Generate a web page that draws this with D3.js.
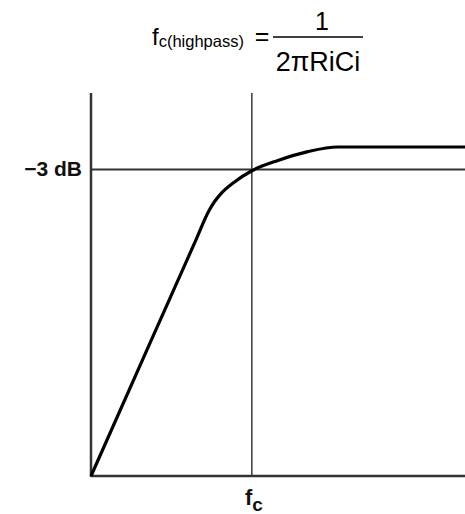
<!DOCTYPE html>
<html>
<head>
<meta charset="utf-8">
<script src="https://cdn.jsdelivr.net/npm/d3@7"></script>
<style>
  body { margin: 0; background: #fff; }
  svg { display: block; font-family: "Liberation Sans", Arial, sans-serif; }
</style>
</head>
<body>
<svg id="drawing"></svg>
<script>
// response curve (x: relative frequency, y: relative gain)
const freq = [0, 16, 28, 31.5, 33, 35, 38, 43, 50, 58, 66, 100];
const gain = [0, 35.2, 61.5, 69.2, 71.6, 74.0, 76.5, 79.7, 82.4, 84.7, 85.9, 85.9];

const fcValue = 43;        // corner frequency marker
const minus3dBValue = 80;  // -3 dB level
const yLabel = "\u22123 dB";

const svg = d3.select("#drawing")
    .attr("width", 465)
    .attr("height", 514);

const x = d3.scaleLinear().domain([0, 100]).range([91, 465]);
const y = d3.scaleLinear().domain([0, 100]).range([476, 93]);

// formula
const formula = svg.append("g").style("fill", "#000");
let f1 = formula.append("text")
    .attr("x", 152)
    .attr("y", 45)
    .style("font-size", "24px");
f1.append("tspan").text("f");
f1.append("tspan").attr("dy", 2).style("font-size", "16.5px").text("c(highpass)");

formula.append("text")
    .attr("x", 262)
    .attr("y", 45)
    .attr("text-anchor", "middle")
    .style("font-size", "25px")
    .text("=");

formula.append("line")
    .attr("x1", 273).attr("x2", 363)
    .attr("y1", 37).attr("y2", 37)
    .style("stroke", "#000")
    .style("stroke-width", 1.5);

formula.append("text")
    .attr("x", 322)
    .attr("y", 30)
    .attr("text-anchor", "middle")
    .style("font-size", "25px")
    .text("1");

formula.append("text")
    .attr("x", 318)
    .attr("y", 71)
    .attr("text-anchor", "middle")
    .style("font-size", "27px")
    .text("2\u03c0RiCi");

// guide lines
svg.append("line")
    .attr("x1", x(0)).attr("x2", x(100))
    .attr("y1", y(minus3dBValue)).attr("y2", y(minus3dBValue))
    .style("stroke", "#333")
    .style("stroke-width", 2);

svg.append("line")
    .attr("x1", x(fcValue)).attr("x2", x(fcValue))
    .attr("y1", y(100)).attr("y2", y(0))
    .style("stroke", "#444")
    .style("stroke-width", 1.6);

// axes
svg.append("line")
    .attr("x1", x(0)).attr("x2", x(0))
    .attr("y1", y(100)).attr("y2", y(0) + 1)
    .style("stroke", "#333")
    .style("stroke-width", 2.5);

svg.append("line")
    .attr("x1", x(0)).attr("x2", x(100))
    .attr("y1", y(0)).attr("y2", y(0))
    .style("stroke", "#333")
    .style("stroke-width", 2.5);

// curve
const line = d3.line()
    .x((d, i) => x(freq[i]))
    .y(d => y(d))
    .curve(d3.curveMonotoneX);

svg.append("path")
    .datum(gain)
    .attr("d", line)
    .style("fill", "none")
    .style("stroke", "#000")
    .style("stroke-width", 3.2)
    .style("stroke-linejoin", "round");

// labels
svg.append("text")
    .attr("x", 82)
    .attr("y", 176)
    .attr("text-anchor", "end")
    .style("font-size", "21px")
    .style("font-weight", "bold")
    .style("fill", "#111")
    .text(yLabel);

let fc = svg.append("text")
    .attr("x", 245)
    .attr("y", 505)
    .style("font-weight", "bold")
    .style("fill", "#111")
    .style("font-size", "22px");
fc.append("tspan").text("f");
fc.append("tspan").attr("dy", 6).style("font-size", "19px").text("c");
</script>
</body>
</html>
